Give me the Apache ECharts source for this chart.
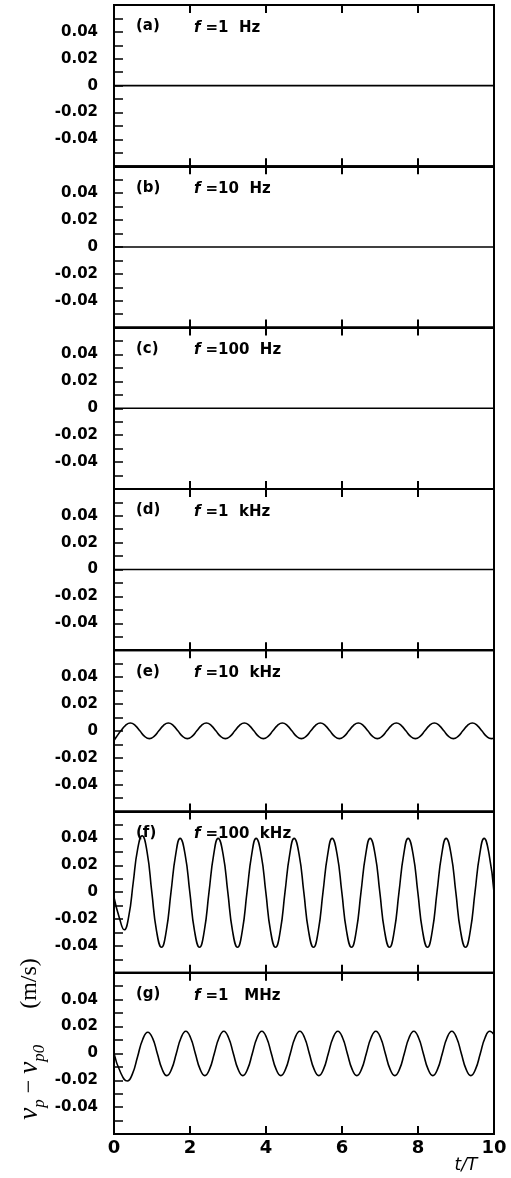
<!DOCTYPE html>
<html>
<head>
<meta charset="utf-8">
<script src="https://cdn.jsdelivr.net/npm/echarts@6/dist/echarts.min.js"></script>
<style>
html,body{margin:0;padding:0;background:#fff;}
#c{width:511px;height:1178px;}
</style>
</head>
<body>
<div id="c"></div>
<script>
// ---- data ----
const panelLabels = ['(a)', '(b)', '(c)', '(d)', '(e)', '(f)', '(g)'];
const freqValues = ['=1  Hz', '=10  Hz', '=100  Hz', '=1  kHz', '=10  kHz', '=100  kHz', '=1   MHz'];
const xTicks = [0, 2, 4, 6, 8, 10];
const yLabelValues = [-0.04, -0.02, 0, 0.02, 0.04];

// panels (a)-(d): flat at zero
const flatT = [0, 10];
const flatV = [0, 0];

// panel (e) f = 10 kHz
const eT = [0, 0.07,
  0.18, 0.305, 0.43, 0.555, 0.68, 0.805, 0.93, 1.055,
  1.18, 1.305, 1.43, 1.555, 1.68, 1.805, 1.93, 2.055,
  2.18, 2.305, 2.43, 2.555, 2.68, 2.805, 2.93, 3.055,
  3.18, 3.305, 3.43, 3.555, 3.68, 3.805, 3.93, 4.055,
  4.18, 4.305, 4.43, 4.555, 4.68, 4.805, 4.93, 5.055,
  5.18, 5.305, 5.43, 5.555, 5.68, 5.805, 5.93, 6.055,
  6.18, 6.305, 6.43, 6.555, 6.68, 6.805, 6.93, 7.055,
  7.18, 7.305, 7.43, 7.555, 7.68, 7.805, 7.93, 8.055,
  8.18, 8.305, 8.43, 8.555, 8.68, 8.805, 8.93, 9.055,
  9.18, 9.305, 9.43, 9.555, 9.68, 9.805, 9.93, 10];
const eV = [-0.0072, -0.0042,
  0, 0.0041, 0.0058, 0.0041, 0, -0.0041, -0.0058, -0.0041,
  0, 0.0041, 0.0058, 0.0041, 0, -0.0041, -0.0058, -0.0041,
  0, 0.0041, 0.0058, 0.0041, 0, -0.0041, -0.0058, -0.0041,
  0, 0.0041, 0.0058, 0.0041, 0, -0.0041, -0.0058, -0.0041,
  0, 0.0041, 0.0058, 0.0041, 0, -0.0041, -0.0058, -0.0041,
  0, 0.0041, 0.0058, 0.0041, 0, -0.0041, -0.0058, -0.0041,
  0, 0.0041, 0.0058, 0.0041, 0, -0.0041, -0.0058, -0.0041,
  0, 0.0041, 0.0058, 0.0041, 0, -0.0041, -0.0058, -0.0041,
  0, 0.0041, 0.0058, 0.0041, 0, -0.0041, -0.0058, -0.0041,
  0, 0.0041, 0.0058, 0.0041, 0, -0.0041, -0.0058, -0.0053];

// panel (f) f = 100 kHz
const fT = [0, 0.14, 0.27, 0.39, 0.505, 0.62, 0.74, 0.87, 0.995, 1.12,
  1.25, 1.375, 1.5, 1.625, 1.74, 1.87, 1.995, 2.12,
  2.25, 2.375, 2.5, 2.625, 2.74, 2.87, 2.995, 3.12,
  3.25, 3.375, 3.5, 3.625, 3.74, 3.87, 3.995, 4.12,
  4.25, 4.375, 4.5, 4.625, 4.74, 4.87, 4.995, 5.12,
  5.25, 5.375, 5.5, 5.625, 5.74, 5.87, 5.995, 6.12,
  6.25, 6.375, 6.5, 6.625, 6.74, 6.87, 6.995, 7.12,
  7.25, 7.375, 7.5, 7.625, 7.74, 7.87, 7.995, 8.12,
  8.25, 8.375, 8.5, 8.625, 8.74, 8.87, 8.995, 9.12,
  9.25, 9.375, 9.5, 9.625, 9.74, 9.87, 10];
const fV = [-0.004, -0.019, -0.028, -0.0177, 0.007, 0.0317, 0.042, 0.03, 0, -0.029,
  -0.041, -0.029, 0, 0.0283, 0.04, 0.0283, 0, -0.029,
  -0.041, -0.029, 0, 0.0283, 0.04, 0.0283, 0, -0.029,
  -0.041, -0.029, 0, 0.0283, 0.04, 0.0283, 0, -0.029,
  -0.041, -0.029, 0, 0.0283, 0.04, 0.0283, 0, -0.029,
  -0.041, -0.029, 0, 0.0283, 0.04, 0.0283, 0, -0.029,
  -0.041, -0.029, 0, 0.0283, 0.04, 0.0283, 0, -0.029,
  -0.041, -0.029, 0, 0.0283, 0.04, 0.0283, 0, -0.029,
  -0.041, -0.029, 0, 0.0283, 0.04, 0.0283, 0, -0.029,
  -0.041, -0.029, 0, 0.0283, 0.04, 0.0283, 0];

// panel (g) f = 1 MHz
const gT = [0, 0.17, 0.35, 0.485, 0.62, 0.755, 0.89, 1.015, 1.14, 1.265,
  1.39, 1.515, 1.64, 1.765, 1.89, 2.015, 2.14, 2.265,
  2.39, 2.515, 2.64, 2.765, 2.89, 3.015, 3.14, 3.265,
  3.39, 3.515, 3.64, 3.765, 3.89, 4.015, 4.14, 4.265,
  4.39, 4.515, 4.64, 4.765, 4.89, 5.015, 5.14, 5.265,
  5.39, 5.515, 5.64, 5.765, 5.89, 6.015, 6.14, 6.265,
  6.39, 6.515, 6.64, 6.765, 6.89, 7.015, 7.14, 7.265,
  7.39, 7.515, 7.64, 7.765, 7.89, 8.015, 8.14, 8.265,
  8.39, 8.515, 8.64, 8.765, 8.89, 9.015, 9.14, 9.265,
  9.39, 9.515, 9.64, 9.765, 9.89, 10];
const gV = [0, -0.014, -0.0205, -0.0152, -0.0024, 0.0104, 0.0158, 0.0114, 0, -0.0116,
  -0.0165, -0.0117, 0, 0.0117, 0.0165, 0.0117, 0, -0.0117,
  -0.0165, -0.0117, 0, 0.0117, 0.0165, 0.0117, 0, -0.0117,
  -0.0165, -0.0117, 0, 0.0117, 0.0165, 0.0117, 0, -0.0117,
  -0.0165, -0.0117, 0, 0.0117, 0.0165, 0.0117, 0, -0.0117,
  -0.0165, -0.0117, 0, 0.0117, 0.0165, 0.0117, 0, -0.0117,
  -0.0165, -0.0117, 0, 0.0117, 0.0165, 0.0117, 0, -0.0117,
  -0.0165, -0.0117, 0, 0.0117, 0.0165, 0.0117, 0, -0.0117,
  -0.0165, -0.0117, 0, 0.0117, 0.0165, 0.0117, 0, -0.0117,
  -0.0165, -0.0117, 0, 0.0117, 0.0165, 0.014];

const seriesT = [flatT, flatT, flatT, flatT, eT, fT, gT];
const seriesV = [flatV, flatV, flatV, flatV, eV, fV, gV];

// ---- layout ----
const TOP0 = 5, PH = 161.3, LEFT = 114, RIGHT = 17;
const chart = echarts.init(document.getElementById('c'), null, {renderer: 'canvas'});

const grids = [], xAxes = [], yAxes = [], series = [], titles = [];
const n = panelLabels.length;
for (let i = 0; i < n; i++) {
  const top = TOP0 + i * PH;
  grids.push({left: LEFT, right: RIGHT, top: top, height: PH, show: true,
    borderColor: '#000', borderWidth: 2, backgroundColor: 'transparent'});
  const last = i === n - 1;
  xAxes.push({type: 'value', gridIndex: i, min: 0, max: 10, interval: 2, position: 'bottom',
    axisLine: {show: true, onZero: false, lineStyle: {color: '#000', width: 2}},
    axisTick: {show: true, inside: true, length: 8, lineStyle: {color: '#000', width: 2}},
    axisLabel: {show: last, color: '#000', fontFamily: 'DejaVu Sans', fontWeight: 'bold', fontSize: 18, margin: 5,
      formatter: v => (xTicks.indexOf(Math.round(v)) >= 0 ? String(Math.round(v)) : '')},
    splitLine: {show: false}});
  xAxes.push({type: 'value', gridIndex: i, min: 0, max: 10, interval: 2, position: 'top',
    axisLine: {show: true, onZero: false, lineStyle: {color: '#000', width: 2}},
    axisTick: {show: true, inside: true, length: 8, lineStyle: {color: '#000', width: 2}},
    axisLabel: {show: false}, splitLine: {show: false}});
  yAxes.push({type: 'value', gridIndex: i, min: -0.06, max: 0.06, interval: 0.01, position: 'left',
    axisLine: {show: true, onZero: false, lineStyle: {color: '#000', width: 2}},
    axisTick: {show: true, inside: true, length: 9, lineStyle: {color: '#000', width: 1.5}},
    axisLabel: {show: true, color: '#000', fontFamily: 'DejaVu Sans', fontWeight: 'bold', fontSize: 15, margin: 16,
      formatter: v => {
        const k = Math.round(v * 100);
        for (const lv of yLabelValues) {
          if (Math.round(lv * 100) === k) return k === 0 ? '0' : (k < 0 ? '-' : '') + '0.0' + Math.abs(k);
        }
        return '';
      }},
    splitLine: {show: false}});
  yAxes.push({type: 'value', gridIndex: i, min: -0.06, max: 0.06, position: 'right',
    axisLine: {show: true, onZero: false, lineStyle: {color: '#000', width: 2}},
    axisTick: {show: false}, axisLabel: {show: false}, splitLine: {show: false}});
  const data = seriesT[i].map((t, j) => [t, seriesV[i][j]]);
  series.push({type: 'line', xAxisIndex: 2 * i, yAxisIndex: 2 * i, data: data,
    smooth: i >= 4 ? 0.5 : false, symbol: 'none', clip: true,
    lineStyle: {color: '#000', width: 1.6}, silent: true, animation: false});
  titles.push({text: panelLabels[i], left: 131, top: top + 9,
    textStyle: {fontFamily: 'DejaVu Sans', fontWeight: 'bold', fontSize: 15, color: '#000'}});
  titles.push({text: '{i|f} {b|' + freqValues[i] + '}', left: 189, top: top + 9,
    textStyle: {rich: {
      i: {fontFamily: 'DejaVu Sans', fontWeight: 'bold', fontStyle: 'italic', fontSize: 15, color: '#000'},
      b: {fontFamily: 'DejaVu Sans', fontWeight: 'bold', fontSize: 15, color: '#000'}}}});
}

chart.setOption({
  animation: false,
  backgroundColor: '#fff',
  title: titles,
  grid: grids,
  xAxis: xAxes,
  yAxis: yAxes,
  series: series,
  graphic: [
    {type: 'text', x: 30, y: 1039, rotation: Math.PI / 2,
      style: {
        text: '{v|v}{s|p}{m| − }{v|v}{s|p0}{m|      (m/s)}',
        align: 'center', verticalAlign: 'middle',
        rich: {
          v: {fontFamily: 'Liberation Serif', fontStyle: 'italic', fontSize: 27, fill: '#000', lineHeight: 28, verticalAlign: 'middle'},
          s: {fontFamily: 'Liberation Serif', fontStyle: 'italic', fontSize: 17, fill: '#000', lineHeight: 28, verticalAlign: 'bottom', padding: [0, 0, -4, 0]},
          m: {fontFamily: 'Liberation Serif', fontSize: 24, fill: '#000', lineHeight: 28, verticalAlign: 'middle'}
        }
      }},
    {type: 'text', x: 466, y: 1166,
      style: {text: 't/T', fontFamily: 'DejaVu Sans', fontStyle: 'italic', fontSize: 17, fill: '#000',
        align: 'center', verticalAlign: 'middle'}}
  ]
});
</script>
</body>
</html>
